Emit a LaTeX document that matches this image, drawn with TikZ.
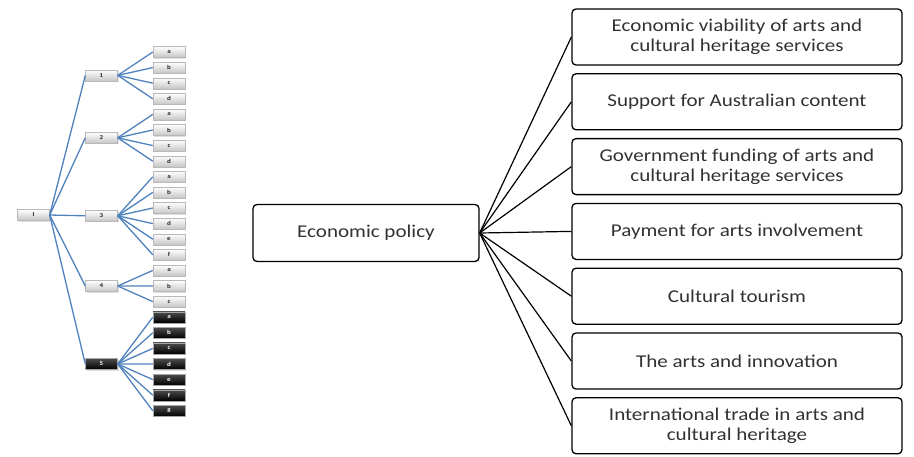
\documentclass[tikz,border=0pt]{standalone}
\usepackage{fontspec}
\setmainfont{Carlito}[FakeStretch=1.17]
\usetikzlibrary{shadows}
\definecolor{branchblue}{RGB}{79,129,189}
\definecolor{textgray}{RGB}{50,50,50}
\begin{document}
\begin{tikzpicture}[x=1pt, y=-1pt,
    leaf/.style={draw=gray!55, top color=white, bottom color=gray!45, minimum width=32pt, minimum height=11pt, inner sep=0pt, font=\fontsize{6}{7}\selectfont\bfseries, text=gray!30!black, drop shadow={opacity=0.25, shadow xshift=1pt, shadow yshift=-1pt}},
    darkleaf/.style={leaf, draw=gray!70, top color=gray!60!black, bottom color=black, text=white},
    branch/.style={branchblue, line width=1.3pt},
    topic/.style={draw, rounded corners=4pt, line width=1.3pt, align=center, text=textgray, font=\fontsize{18}{20}\selectfont},
    link/.style={line width=1.2pt}]
    \useasboundingbox (0,0) rectangle (914,456);
    % small tree on the left
    \node[leaf] (root) at (33.5, 215) {I};
    \foreach \g/\first/\midy/\letters/\kind in {1/0/75.4/{a,b,c,d}/leaf, 2/4/137.8/{a,b,c,d}/leaf, 3/8/215.8/{a,b,c,d,e,f}/leaf, 4/14/286/{a,b,c}/leaf, 5/17/364/{a,b,c,d,e,f,g}/darkleaf} {
        \node[\kind] (m\g) at (101.5, \midy) {\g};
        \draw[branch] (root.east) -- (m\g.west);
        \foreach \l [count=\i from \first] in \letters {
            \node[\kind] (m\g\l) at (169, {52+15.6*\i}) {\l};
            \draw[branch] (m\g.east) -- (m\g\l.west);
        }
    }
    % main diagram
    \node[topic, minimum width=226pt, minimum height=57pt] (econ) at (366, 233) {Economic policy};
    \foreach \i/\txt in {0/{Economic viability of arts and\\cultural heritage services}, 1/{Support for Australian content}, 2/{Government funding of arts and\\cultural heritage services}, 3/{Payment for arts involvement}, 4/{Cultural tourism}, 5/{The arts and innovation}, 6/{International trade in arts and\\cultural heritage}} {
        \node[topic, minimum width=330pt, minimum height=56pt] (t\i) at (737, {37+64.8*\i}) {\txt};
        \draw[link] (econ.east) -- (t\i.west);
    }
\end{tikzpicture}
\end{document}
